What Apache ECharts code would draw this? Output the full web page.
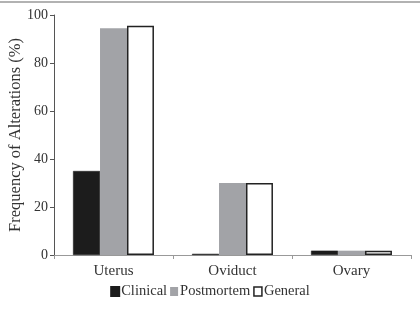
<!DOCTYPE html>
<html><head><meta charset="utf-8">
<style>html,body{margin:0;padding:0;background:#fff}#c{width:420px;height:312px}</style>
<script src="https://cdn.jsdelivr.net/npm/echarts@6/dist/echarts.min.js"></script>
</head><body><div id="c"></div>
<script>
const categories = ['Uterus', 'Oviduct', 'Ovary'];
const clinical = [35, 0.5, 1.8];
const postmortem = [94.5, 30, 1.8];
const general = [95.5, 30, 1.8];
const yTicks = [0, 20, 40, 60, 80, 100];

const font = '"Liberation Serif", "DejaVu Serif", serif';
const chart = echarts.init(document.getElementById('c'), null, {renderer: 'canvas'});
chart.setOption({
  animation: false,
  textStyle: {fontFamily: font},
  grid: {left: 54, right: 9, top: 15, bottom: 57, containLabel: false, outerBoundsMode: 'none'},
  graphic: [{type: 'line', shape: {x1: 0, y1: 2, x2: 420, y2: 2}, style: {stroke: '#999', lineWidth: 1.5}}],
  legend: {
    bottom: 8, left: 'center',
    itemWidth: 8, itemHeight: 9, itemGap: 3,
    textStyle: {fontFamily: font, fontSize: 14.5, color: '#333', padding: [0, 0, 0, -3]},
    data: [
      {name: 'Clinical', icon: 'rect'},
      {name: 'Postmortem', icon: 'rect'},
      {name: 'General', icon: 'rect', itemStyle: {color: '#fff', borderColor: '#222', borderWidth: 1.5}}
    ]
  },
  xAxis: {
    type: 'category', data: categories,
    axisLine: {lineStyle: {color: '#999', width: 1}},
    axisTick: {show: true, length: 4, lineStyle: {color: '#999'}},
    axisLabel: {fontFamily: font, fontSize: 15, color: '#333', margin: 9}
  },
  yAxis: {
    type: 'value', min: 0, max: 100, interval: 20,
    name: 'Frequency of Alterations (%)', nameLocation: 'middle', nameGap: 30,
    nameMoveOverlap: false,
    nameTextStyle: {fontFamily: font, fontSize: 16.5, color: '#333'},
    axisLine: {show: true, lineStyle: {color: '#555', width: 1}},
    axisTick: {show: true, length: 4, lineStyle: {color: '#555'}},
    axisLabel: {fontFamily: font, fontSize: 14, color: '#333', margin: 6,
      formatter: v => yTicks.includes(v) ? String(v) : ''},
    splitLine: {show: false}
  },
  series: [
    {name: 'Clinical', type: 'bar', data: clinical, barGap: '0%', barCategoryGap: '32%',
     itemStyle: {color: '#1c1c1c', borderColor: '#1c1c1c', borderWidth: 0.5}},
    {name: 'Postmortem', type: 'bar', data: postmortem,
     itemStyle: {color: '#a2a3a7'}},
    {name: 'General', type: 'bar', data: general,
     itemStyle: {color: '#fff', borderColor: '#222', borderWidth: 1.5}}
  ]
});
</script></body></html>
